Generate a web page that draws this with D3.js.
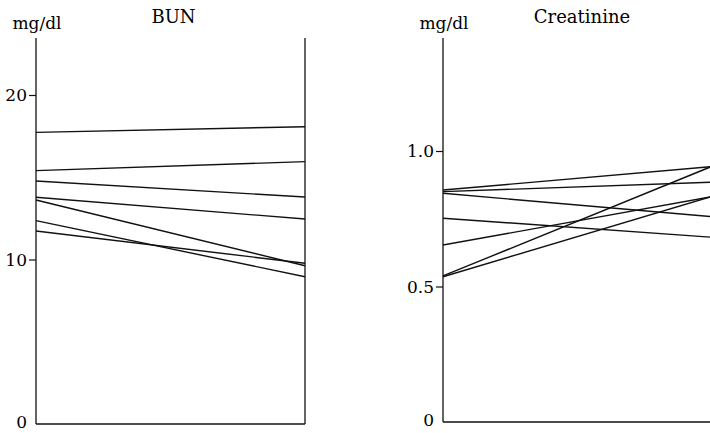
<!DOCTYPE html>
<html>
<head>
<meta charset="utf-8">
<script src="https://cdn.jsdelivr.net/npm/d3@7"></script>
<style>
  html, body { margin: 0; padding: 0; background: #fff; }
  svg { display: block; }
  text { font-family: "DejaVu Serif", "Liberation Serif", serif; fill: #000; }
</style>
</head>
<body>
<svg id="chart" width="710" height="433"></svg>
<script>
// ---- data ----
const timepoints = ["before", "after"];

const bunTitle = "BUN";
const bunUnit = "mg/dl";
const bunBefore = [17.73, 15.40, 14.77, 13.78, 13.62, 12.36, 11.73];
const bunAfter  = [18.07, 15.95, 13.80, 12.46, 9.62, 8.95, 9.77];
const bunTicks = [0, 10, 20];
const bunTickLabels = ["0", "10", "20"];

const creTitle = "Creatinine";
const creUnit = "mg/dl";
const creBefore = [0.856, 0.850, 0.844, 0.752, 0.653, 0.539, 0.536];
const creAfter  = [0.942, 0.885, 0.758, 0.682, 0.831, 0.942, 0.831];
const creTicks = [0, 0.5, 1.0];
const creTickLabels = ["0", "0.5", "1.0"];

// ---- drawing ----
const svg = d3.select("#chart");

function drawPanel(cfg) {
  const g = svg.append("g");
  const x = d3.scaleLinear().domain([0, 1]).range(cfg.xRange);
  const y = d3.scaleLinear().domain([0, cfg.yMax]).range([cfg.y0, cfg.yTop]);

  // axis with ticks & labels
  const axis = d3.axisLeft(y)
    .tickValues(cfg.ticks)
    .tickFormat((d, i) => cfg.tickLabels[i])
    .tickSize(7)
    .tickPadding(2);
  const ag = g.append("g")
    .attr("transform", `translate(${x(0)},0)`)
    .call(axis);
  ag.select(".domain").remove();
  ag.selectAll(".tick line")
    .attr("stroke", "#111")
    .attr("stroke-width", 1.2)
    .attr("opacity", d => d === 0 ? 0 : 1);
  ag.selectAll(".tick text")
    .attr("font-size", 17)
    .attr("fill", "#000")
    .attr("dy", d => d === 0 ? "0.22em" : "0.35em");

  // frame: two verticals and the baseline
  const frame = g.append("g").attr("stroke", "#111").attr("stroke-width", 1.3).attr("fill", "none");
  frame.append("line").attr("x1", x(0)).attr("x2", x(0)).attr("y1", y(cfg.yMax)).attr("y2", y(0));
  frame.append("line").attr("x1", x(1)).attr("x2", x(1)).attr("y1", y(cfg.yMax)).attr("y2", y(0));
  frame.append("line").attr("x1", x(0)).attr("x2", x(1)).attr("y1", y(0)).attr("y2", y(0));

  // subject lines
  const pairs = cfg.before.map((b, i) => [b, cfg.after[i]]);
  const line = d3.line().x((d, i) => x(i)).y(d => y(d));
  g.append("g").selectAll("path").data(pairs).join("path")
    .attr("d", line)
    .attr("fill", "none")
    .attr("stroke", "#111")
    .attr("stroke-width", 1.4);

  // unit label and title
  g.append("text")
    .attr("x", x(0) + 1)
    .attr("y", 29)
    .attr("text-anchor", "middle")
    .attr("font-size", 17)
    .text(cfg.unit);
  g.append("text")
    .attr("x", x(0.5) + cfg.titleShift)
    .attr("y", 23)
    .attr("text-anchor", "middle")
    .attr("font-size", 18)
    .text(cfg.title);
}

drawPanel({
  title: bunTitle, unit: bunUnit, before: bunBefore, after: bunAfter,
  ticks: bunTicks, tickLabels: bunTickLabels,
  xRange: [36, 305], y0: 424, yTop: 38, yMax: (424 - 38) / 16.45, titleShift: 3
});

drawPanel({
  title: creTitle, unit: creUnit, before: creBefore, after: creAfter,
  ticks: creTicks, tickLabels: creTickLabels,
  xRange: [443, 711], y0: 422, yTop: 38, yMax: (422 - 38) / 271, titleShift: 5
});
</script>
</body>
</html>
